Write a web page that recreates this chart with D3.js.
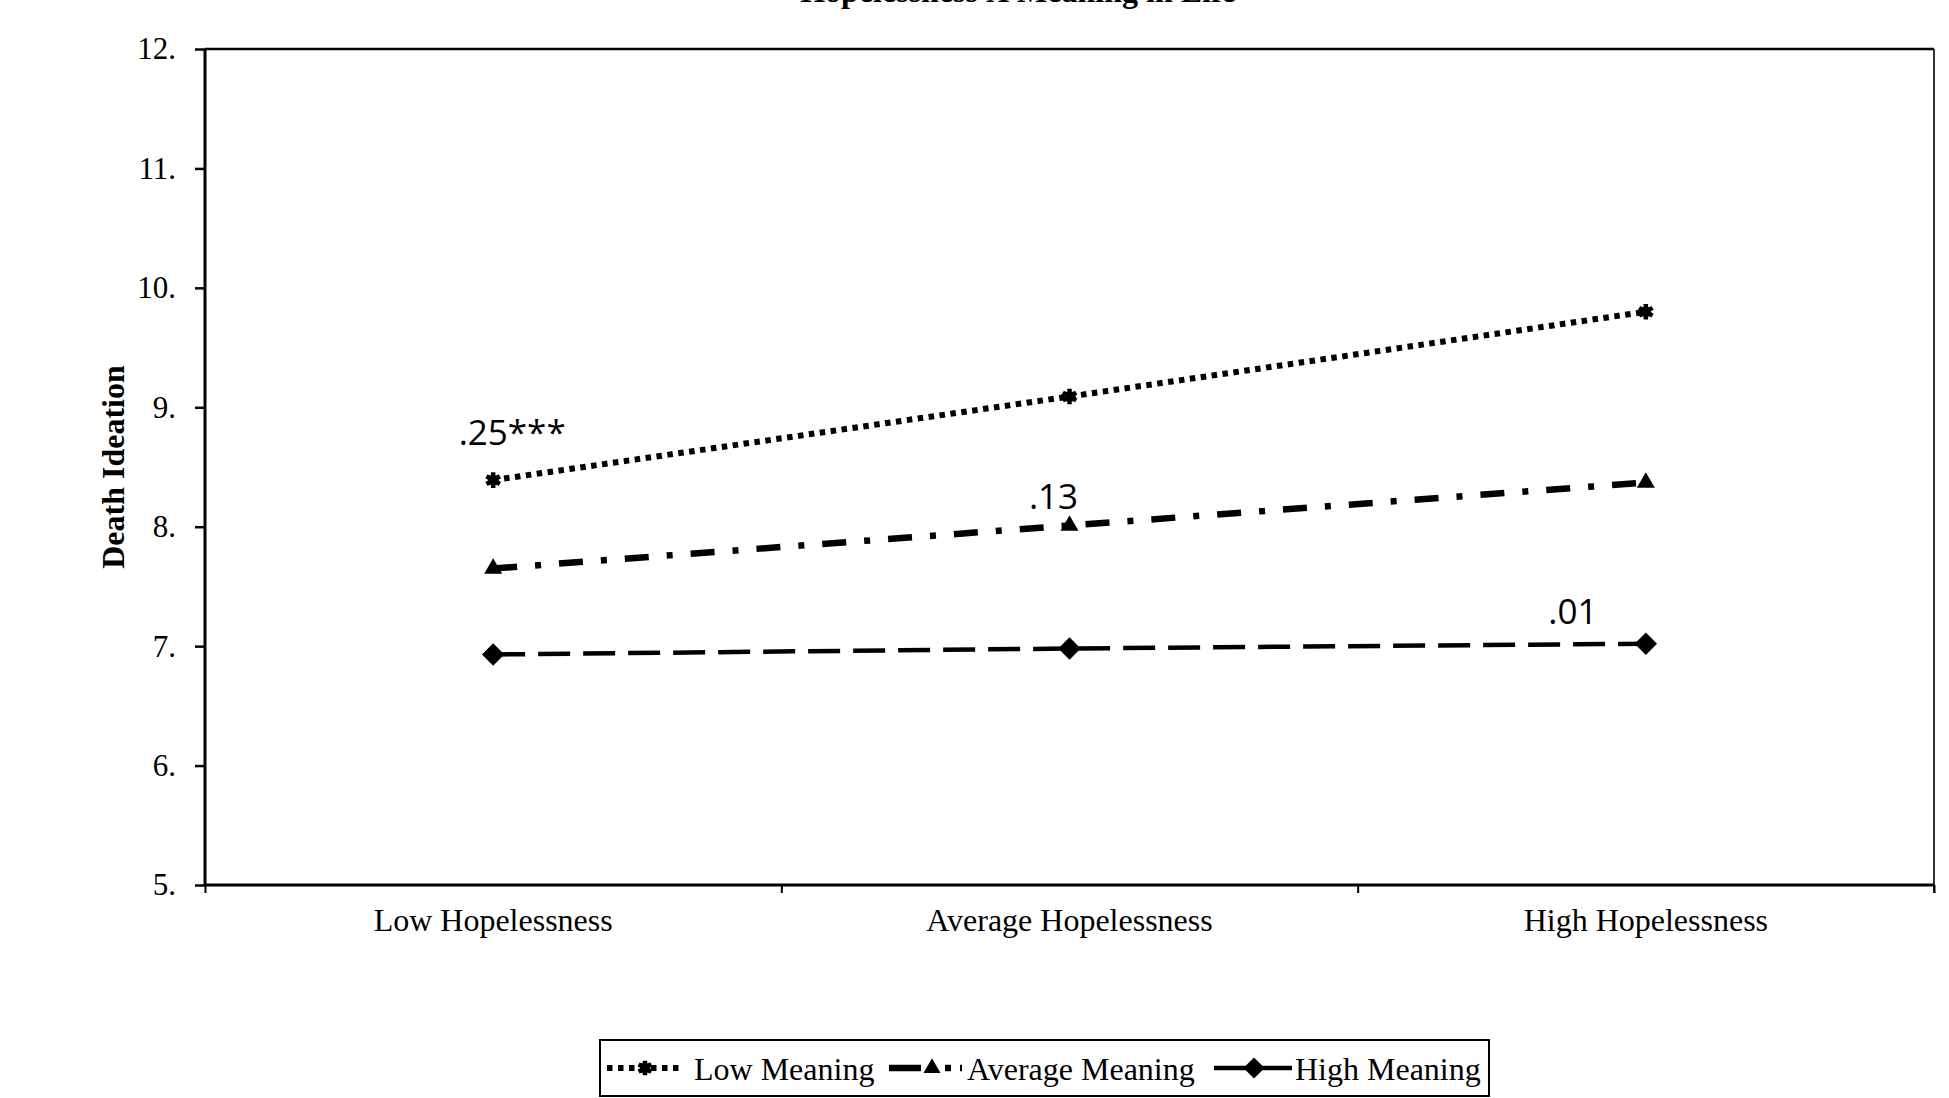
<!DOCTYPE html>
<html>
<head>
<meta charset="utf-8">
<script src="https://cdn.jsdelivr.net/npm/d3@7"></script>
<style>
  html, body { margin: 0; padding: 0; background: #fff; }
  svg { display: block; }
  text { fill: #000; }
</style>
</head>
<body>
<svg id="chart" width="1949" height="1098"></svg>
<script>
// ---- Data ----
const chartTitle = "Hopelessness X Meaning in Life";
const yTitle = "Death Ideation";
const categories = ["Low Hopelessness", "Average Hopelessness", "High Hopelessness"];
const seriesNames = ["Low Meaning", "Average Meaning", "High Meaning"];
const lowMeaning = [8.39, 9.09, 9.80];
const averageMeaning = [7.65, 8.01, 8.37];
const highMeaning = [6.93, 6.98, 7.02];
const yTicks = [5, 6, 7, 8, 9, 10, 11, 12];
const yTickLabels = ["5.", "6.", "7.", "8.", "9.", "10.", "11.", "12."];
const slopeLabels = [".25***", ".13", ".01"];       // one per series
const slopeLabelCategory = [0, 1, 2];               // category index each label sits at

// ---- Layout ----
const svg = d3.select("#chart");
const W = 1949, H = 1098;
const m = { left: 205, right: 1934, top: 49, bottom: 885 };

svg.append("rect").attr("width", W).attr("height", H).attr("fill", "#fff");

const x = d3.scaleBand().domain(categories).range([m.left, m.right]).padding(0);
const xb = d3.scaleLinear().domain([0, categories.length]).range([m.left, m.right]);
const y = d3.scaleLinear().domain([5, 12]).range([m.bottom, m.top]);

const serif = "'Liberation Serif', 'Times New Roman', serif";

// Frame (top and right)
svg.append("line").attr("x1", m.left).attr("x2", m.right).attr("y1", m.top).attr("y2", m.top)
  .attr("stroke", "#000").attr("stroke-width", 2.5);
svg.append("line").attr("x1", m.right).attr("x2", m.right).attr("y1", m.top).attr("y2", m.bottom + 8)
  .attr("stroke", "#333").attr("stroke-width", 2);

// Y axis
const yAxis = svg.append("g").attr("transform", `translate(${m.left},0)`)
  .call(d3.axisLeft(y).tickValues(yTicks).tickSize(10).tickPadding(19)
    .tickFormat((d, i) => yTickLabels[yTicks.indexOf(d)]));
yAxis.select(".domain").attr("stroke", "#000").attr("stroke-width", 3)
  .attr("d", `M0,${m.top}V${m.bottom}`);
yAxis.selectAll(".tick line").attr("stroke", "#000").attr("stroke-width", 2.5);
yAxis.selectAll(".tick text").attr("font-family", serif).attr("font-size", 31).attr("fill", "#000");

// X axis boundary ticks
const xAxisB = svg.append("g").attr("transform", `translate(0,${m.bottom})`)
  .call(d3.axisBottom(xb).tickValues(d3.range(categories.length + 1)).tickSize(8).tickFormat(""));
xAxisB.select(".domain").attr("stroke", "#000").attr("stroke-width", 3)
  .attr("d", `M${m.left},0H${m.right}`);
xAxisB.selectAll(".tick line").attr("stroke", "#000").attr("stroke-width", 2);

// X category labels
const xAxisL = svg.append("g").attr("transform", `translate(0,${m.bottom})`)
  .call(d3.axisBottom(x).tickSize(0).tickPadding(23));
xAxisL.select(".domain").remove();
xAxisL.selectAll(".tick text").attr("font-family", serif).attr("font-size", 32).attr("fill", "#000");

// Title (mostly cut off at top, as in the reference)
svg.append("text").attr("x", 1018).attr("y", 2).attr("text-anchor", "middle")
  .attr("font-family", serif).attr("font-weight", "bold").attr("font-size", 32)
  .text(chartTitle);

// Y title
svg.append("text").attr("transform", `translate(124,${(m.top + m.bottom) / 2}) rotate(-90)`)
  .attr("text-anchor", "middle").attr("font-family", serif).attr("font-weight", "bold")
  .attr("font-size", 32).text(yTitle);

// ---- Series ----
const series = [
  { name: seriesNames[0], values: lowMeaning, dash: "5.5,5.5", width: 6,
    symbol: d3.symbolAsterisk, size: 170, rotate: 0, fill: "none", stroke: 4.5, core: 90 },
  { name: seriesNames[1], values: averageMeaning, dash: "24,18,6,18", width: 6.5,
    symbol: d3.symbolTriangle, size: 140, rotate: 0, fill: "#000", stroke: 0 },
  { name: seriesNames[2], values: highMeaning, dash: "32,13", width: 4.5,
    symbol: d3.symbolSquare, size: 250, rotate: 45, fill: "#000", stroke: 0 }
];

const line = d3.line().x((d, i) => x(categories[i]) + x.bandwidth() / 2).y(d => y(d));

series.forEach(s => {
  svg.append("path").datum(s.values).attr("d", line)
    .attr("fill", "none").attr("stroke", "#000").attr("stroke-width", s.width)
    .attr("stroke-dasharray", s.dash);
  svg.selectAll(null).data(s.values).enter().append("path")
    .attr("d", d3.symbol().type(s.symbol).size(s.size))
    .attr("transform", (d, i) => `translate(${x(categories[i]) + x.bandwidth() / 2},${y(d)}) rotate(${s.rotate})`)
    .attr("fill", s.fill)
    .attr("stroke", "#000").attr("stroke-width", s.stroke);
  if (s.core) {
    svg.selectAll(null).data(s.values).enter().append("path")
      .attr("d", d3.symbol().type(d3.symbolSquare).size(s.core))
      .attr("transform", (d, i) => `translate(${x(categories[i]) + x.bandwidth() / 2},${y(d)})`)
      .attr("fill", "#000");
  }
});

// Slope annotations
const annOffsets = [[19, -35], [-16, -17], [-73, -20]];
slopeLabels.forEach((t, k) => {
  const ci = slopeLabelCategory[k];
  const v = series[k].values[ci];
  svg.append("text")
    .attr("x", x(categories[ci]) + x.bandwidth() / 2 + annOffsets[k][0])
    .attr("y", y(v) + annOffsets[k][1])
    .attr("text-anchor", "middle").attr("font-family", "'Open Sans', sans-serif")
    .attr("font-size", 35).text(t);
});

// ---- Legend ----
const lg = svg.append("g");
lg.append("rect").attr("x", 600).attr("y", 1040).attr("width", 889).attr("height", 56)
  .attr("fill", "#fff").attr("stroke", "#000").attr("stroke-width", 2);

const legendItems = [
  { x1: 607, x2: 684, mx: 645, tx: 694, dash: "5.5,5.5" },
  { x1: 889, x2: 962, mx: 932, tx: 967, dash: "32,24,6,9,2,200" },
  { x1: 1214, x2: 1292, mx: 1254, tx: 1295, dash: null }
];
const ly = 1068;
legendItems.forEach((it, k) => {
  const s = series[k];
  const p = lg.append("line").attr("x1", it.x1).attr("x2", it.x2).attr("y1", ly).attr("y2", ly)
    .attr("stroke", "#000").attr("stroke-width", s.width);
  if (it.dash) p.attr("stroke-dasharray", it.dash);
  lg.append("path").attr("d", d3.symbol().type(s.symbol).size(s.size * 0.9))
    .attr("transform", `translate(${it.mx},${ly}) rotate(${s.rotate})`)
    .attr("fill", s.fill)
    .attr("stroke", "#000").attr("stroke-width", s.stroke);
  if (s.core) {
    lg.append("path").attr("d", d3.symbol().type(d3.symbolSquare).size(s.core))
      .attr("transform", `translate(${it.mx},${ly})`).attr("fill", "#000");
  }
  lg.append("text").attr("x", it.tx).attr("y", 1080).attr("font-family", serif)
    .attr("font-size", 32).text(s.name);
});
</script>
</body>
</html>
